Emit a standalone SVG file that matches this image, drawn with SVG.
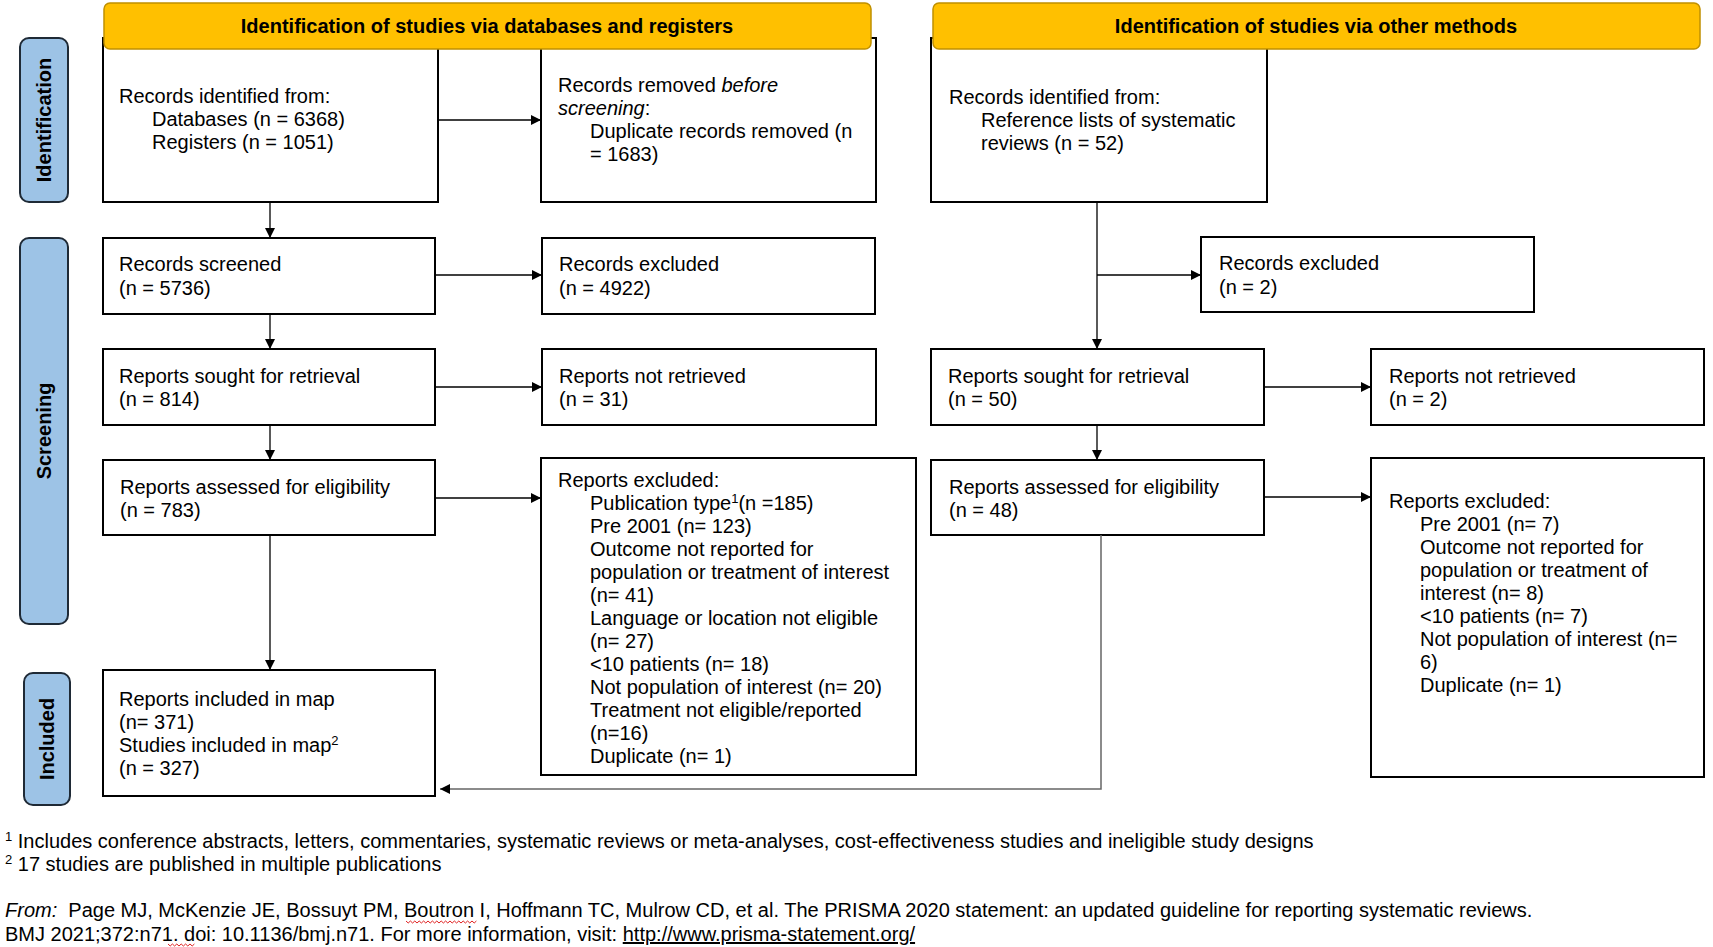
<svg xmlns="http://www.w3.org/2000/svg" width="1713" height="947" viewBox="0 0 1713 947">
<defs>
<marker id="ah" viewBox="0 0 10 10" refX="10" refY="5" markerWidth="10" markerHeight="10" markerUnits="userSpaceOnUse" orient="auto">
<path d="M0,0 L10,5 L0,10 z" fill="#000"/>
</marker>
</defs>
<style>
text{font-family:"Liberation Sans",Arial,sans-serif;font-size:20px;fill:#000}
.box{fill:#fff;stroke:#000;stroke-width:2}
.hdr{fill:#FFC000;stroke:#C09000;stroke-width:1.5}
.hdrt{font-weight:bold;font-size:20px;text-anchor:middle}
.lane{fill:#9DC3E6;stroke:#1F2A36;stroke-width:2}
.lanet{font-weight:bold;font-size:20px;text-anchor:middle}
.con{fill:none;stroke:#000;stroke-width:1.3}
.cong{fill:none;stroke:#666;stroke-width:1.5}
.foot{font-size:20px}
.sup{font-size:13px}
.squig{fill:none;stroke:#e02020;stroke-width:1}
</style>
<rect width="1713" height="947" fill="#fff"/>

<g id="lane-identification">
<rect class="lane" x="20" y="38" width="48" height="164" rx="9"/>
<text class="lanet" transform="translate(51,120) rotate(-90)">Identification</text>
</g>
<g id="lane-screening">
<rect class="lane" x="20" y="238" width="48" height="386" rx="9"/>
<text class="lanet" transform="translate(51,431) rotate(-90)">Screening</text>
</g>
<g id="lane-included">
<rect class="lane" x="24" y="673" width="46" height="132" rx="9"/>
<text class="lanet" transform="translate(54,739) rotate(-90)">Included</text>
</g>

<g id="box-records-identified">
<rect class="box" x="103" y="38" width="335" height="164"/>
<text x="119" y="103">Records identified from:</text>
<text x="152" y="126">Databases (n = 6368)</text>
<text x="152" y="149">Registers (n = 1051)</text>
</g>
<g id="box-records-removed">
<rect class="box" x="541" y="38" width="335" height="164"/>
<text x="558" y="92">Records removed <tspan font-style="italic">before</tspan></text>
<text x="558" y="115"><tspan font-style="italic">screening</tspan>:</text>
<text x="590" y="138">Duplicate records removed (n</text>
<text x="590" y="161">= 1683)</text>
</g>
<g id="box-other-identified">
<rect class="box" x="931" y="38" width="336" height="164"/>
<text x="949" y="104">Records identified from:</text>
<text x="981" y="127">Reference lists of systematic</text>
<text x="981" y="150">reviews (n = 52)</text>
</g>

<g id="header-databases">
<rect class="hdr" x="104" y="3" width="767" height="46" rx="6"/>
<text class="hdrt" x="487" y="33">Identification of studies via databases and registers</text>
</g>
<g id="header-other">
<rect class="hdr" x="933" y="3" width="767" height="46" rx="6"/>
<text class="hdrt" x="1316" y="33">Identification of studies via other methods</text>
</g>

<g id="box-records-screened">
<rect class="box" x="103" y="238" width="332" height="76"/>
<text x="119" y="271">Records screened</text>
<text x="119" y="295">(n = 5736)</text>
</g>
<g id="box-records-excluded">
<rect class="box" x="542" y="238" width="333" height="76"/>
<text x="559" y="271">Records excluded</text>
<text x="559" y="295">(n = 4922)</text>
</g>
<g id="box-other-records-excluded">
<rect class="box" x="1201" y="237" width="333" height="75"/>
<text x="1219" y="270">Records excluded</text>
<text x="1219" y="294">(n = 2)</text>
</g>

<g id="box-reports-sought">
<rect class="box" x="103" y="349" width="332" height="76"/>
<text x="119" y="383">Reports sought for retrieval</text>
<text x="119" y="406">(n = 814)</text>
</g>
<g id="box-reports-not-retrieved">
<rect class="box" x="542" y="349" width="334" height="76"/>
<text x="559" y="383">Reports not retrieved</text>
<text x="559" y="406">(n = 31)</text>
</g>
<g id="box-other-reports-sought">
<rect class="box" x="931" y="349" width="333" height="76"/>
<text x="948" y="383">Reports sought for retrieval</text>
<text x="948" y="406">(n = 50)</text>
</g>
<g id="box-other-reports-not-retrieved">
<rect class="box" x="1371" y="349" width="333" height="76"/>
<text x="1389" y="383">Reports not retrieved</text>
<text x="1389" y="406">(n = 2)</text>
</g>

<g id="box-reports-assessed">
<rect class="box" x="103" y="460" width="332" height="75"/>
<text x="120" y="494">Reports assessed for eligibility</text>
<text x="120" y="517">(n = 783)</text>
</g>
<g id="box-reports-excluded">
<rect class="box" x="541" y="458" width="375" height="317"/>
<text x="558" y="487">Reports excluded:</text>
<text x="590" y="510">Publication type<tspan class="sup" dy="-7">1</tspan><tspan dy="7">(n =185)</tspan></text>
<text x="590" y="533">Pre 2001 (n= 123)</text>
<text x="590" y="556">Outcome not reported for</text>
<text x="590" y="579">population or treatment of interest</text>
<text x="590" y="602">(n= 41)</text>
<text x="590" y="625">Language or location not eligible</text>
<text x="590" y="648">(n= 27)</text>
<text x="590" y="671">&lt;10 patients (n= 18)</text>
<text x="590" y="694">Not population of interest (n= 20)</text>
<text x="590" y="717">Treatment not eligible/reported</text>
<text x="590" y="740">(n=16)</text>
<text x="590" y="763">Duplicate (n= 1)</text>
</g>
<g id="box-other-reports-assessed">
<rect class="box" x="931" y="460" width="333" height="75"/>
<text x="949" y="494">Reports assessed for eligibility</text>
<text x="949" y="517">(n = 48)</text>
</g>
<g id="box-other-reports-excluded">
<rect class="box" x="1371" y="458" width="333" height="319"/>
<text x="1389" y="508">Reports excluded:</text>
<text x="1420" y="531">Pre 2001 (n= 7)</text>
<text x="1420" y="554">Outcome not reported for</text>
<text x="1420" y="577">population or treatment of</text>
<text x="1420" y="600">interest (n= 8)</text>
<text x="1420" y="623">&lt;10 patients (n= 7)</text>
<text x="1420" y="646">Not population of interest (n=</text>
<text x="1420" y="669">6)</text>
<text x="1420" y="692">Duplicate (n= 1)</text>
</g>

<g id="box-included">
<rect class="box" x="103" y="670" width="332" height="126"/>
<text x="119" y="706">Reports included in map</text>
<text x="119" y="729">(n= 371)</text>
<text x="119" y="752">Studies included in map<tspan class="sup" dy="-7">2</tspan></text>
<text x="119" y="775">(n = 327)</text>
</g>

<g id="connectors">
<path class="con" d="M270,202 V238" marker-end="url(#ah)"/>
<path class="con" d="M438,120 H541" marker-end="url(#ah)"/>
<path class="con" d="M435,275 H542" marker-end="url(#ah)"/>
<path class="con" d="M270,314 V349" marker-end="url(#ah)"/>
<path class="con" d="M435,387 H542" marker-end="url(#ah)"/>
<path class="con" d="M270,425 V460" marker-end="url(#ah)"/>
<path class="con" d="M435,498 H541" marker-end="url(#ah)"/>
<path class="con" d="M270,535 V670" marker-end="url(#ah)"/>
<path class="con" d="M1097,202 V349" marker-end="url(#ah)"/>
<path class="con" d="M1097,275 H1201" marker-end="url(#ah)"/>
<path class="con" d="M1264,387 H1371" marker-end="url(#ah)"/>
<path class="con" d="M1097,425 V460" marker-end="url(#ah)"/>
<path class="con" d="M1264,497 H1371" marker-end="url(#ah)"/>
<path class="cong" d="M1101,535 V789 H440" marker-end="url(#ah)"/>
</g>

<g id="footnotes">
<text class="foot" x="5" y="848"><tspan class="sup" dy="-7">1</tspan><tspan dy="7"> Includes conference abstracts, letters, commentaries, systematic reviews or meta-analyses, cost-effectiveness studies and ineligible study designs</tspan></text>
<text class="foot" x="5" y="871"><tspan class="sup" dy="-7">2</tspan><tspan dy="7"> 17 studies are published in multiple publications</tspan></text>
<text class="foot" x="5" y="917"><tspan font-style="italic">From:</tspan>&#160; Page MJ, McKenzie JE, Bossuyt PM, Boutron I, Hoffmann TC, Mulrow CD, et al. The PRISMA 2020 statement: an updated guideline for reporting systematic reviews.</text>
<text class="foot" x="5" y="941">BMJ 2021;372:n71. doi: 10.1136/bmj.n71. For more information, visit: <tspan text-decoration="underline">http://www.prisma-statement.org/</tspan></text>
<path class="squig" d="M406,921 l2.2,2 l2.2,-2 l2.2,2 l2.2,-2 l2.2,2 l2.2,-2 l2.2,2 l2.2,-2 l2.2,2 l2.2,-2 l2.2,2 l2.2,-2 l2.2,2 l2.2,-2 l2.2,2 l2.2,-2 l2.2,2 l2.2,-2 l2.2,2 l2.2,-2 l2.2,2 l2.2,-2 l2.2,2 l2.2,-2 l2.2,2 l2.2,-2 l2.2,2 l2.2,-2 l2.2,2 l2.2,-2 l2.2,2 l2.2,-2"/>
<path class="squig" d="M168,944 l2.2,2 l2.2,-2 l2.2,2 l2.2,-2 l2.2,2 l2.2,-2 l2.2,2 l2.2,-2 l2.2,2 l2.2,-2 l2.2,2 l2.2,-2"/>
</g>
</svg>
